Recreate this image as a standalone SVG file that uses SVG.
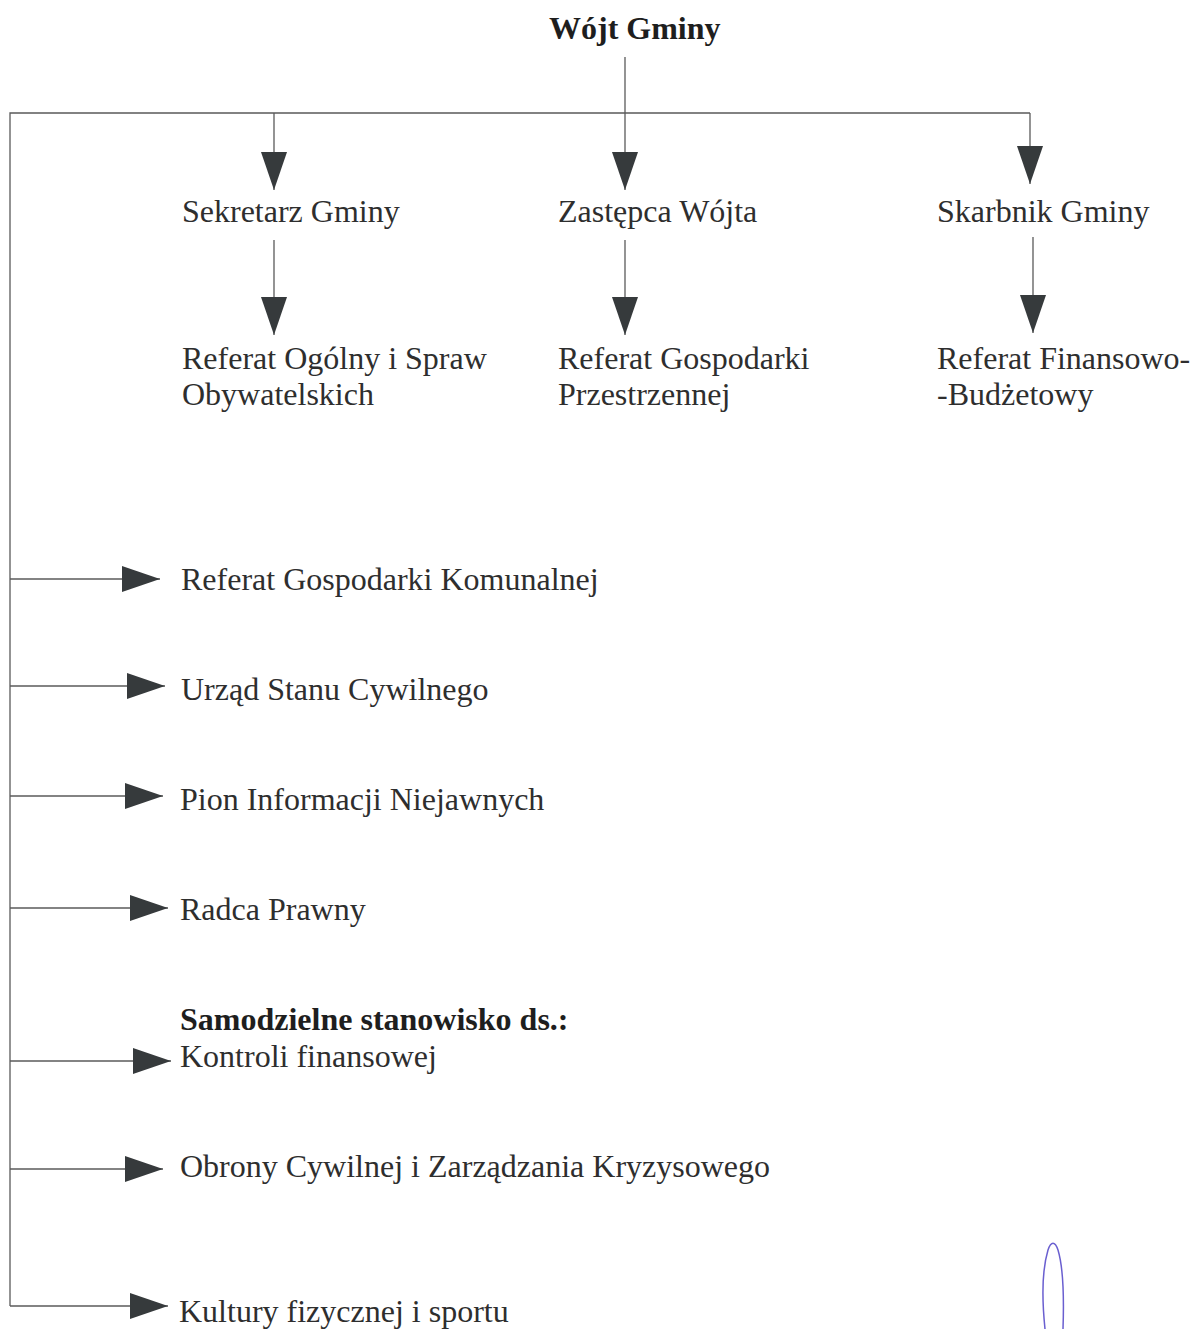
<svg xmlns="http://www.w3.org/2000/svg" width="1193" height="1329" viewBox="0 0 1193 1329">
<style>
text{font-family:"Liberation Serif","Times New Roman",serif;font-size:32px;fill:#2e2e2e}
.b{font-weight:bold;fill:#1e1e1e}
.c line,.c polyline{stroke:#5a5a5a;stroke-width:1.3;fill:none}
</style>
<defs>
<marker id="ah" viewBox="0 0 38 26" markerWidth="38" markerHeight="26" refX="38" refY="13" orient="auto" markerUnits="userSpaceOnUse">
<path d="M0,0 L38,13 L0,26 Z" fill="#363a3c"/>
</marker>
</defs>
<rect width="1193" height="1329" fill="#fff"/>
<g class="c" id="connectors">
<line x1="625" y1="57" x2="625" y2="190" marker-end="url(#ah)"/>
<polyline points="10,1306 10,113 1030,113"/>
<line x1="274" y1="113" x2="274" y2="190" marker-end="url(#ah)"/>
<line x1="1030" y1="113" x2="1030" y2="184" marker-end="url(#ah)"/>
<line x1="274" y1="240" x2="274" y2="335" marker-end="url(#ah)"/>
<line x1="625" y1="240" x2="625" y2="335" marker-end="url(#ah)"/>
<line x1="1033" y1="237" x2="1033" y2="333" marker-end="url(#ah)"/>
<line x1="10" y1="579" x2="160" y2="579" marker-end="url(#ah)"/>
<line x1="10" y1="686" x2="165" y2="686" marker-end="url(#ah)"/>
<line x1="10" y1="796" x2="163" y2="796" marker-end="url(#ah)"/>
<line x1="10" y1="908" x2="168" y2="908" marker-end="url(#ah)"/>
<line x1="10" y1="1061" x2="171" y2="1061" marker-end="url(#ah)"/>
<line x1="10" y1="1169" x2="163" y2="1169" marker-end="url(#ah)"/>
<line x1="10" y1="1306" x2="168" y2="1306" marker-end="url(#ah)"/>
</g>
<g id="wojt"><text class="b" x="549" y="39" font-size="33">Wójt Gminy</text></g>
<g id="sekretarz"><text x="182" y="222">Sekretarz Gminy</text></g>
<g id="zastepca"><text x="558" y="222">Zastępca Wójta</text></g>
<g id="skarbnik"><text x="937" y="222">Skarbnik Gminy</text></g>
<g id="ref-ogolny"><text x="182" y="369">Referat Ogólny i Spraw</text><text x="182" y="405">Obywatelskich</text></g>
<g id="ref-gp"><text x="558" y="369">Referat Gospodarki</text><text x="558" y="405">Przestrzennej</text></g>
<g id="ref-fb"><text x="937" y="369">Referat Finansowo-</text><text x="937" y="405">-Budżetowy</text></g>
<g id="ref-gk"><text x="181" y="590">Referat Gospodarki Komunalnej</text></g>
<g id="usc"><text x="181" y="700">Urząd Stanu Cywilnego</text></g>
<g id="pin"><text x="180" y="810">Pion Informacji Niejawnych</text></g>
<g id="radca"><text x="180" y="920">Radca Prawny</text></g>
<g id="samodzielne"><text class="b" x="180" y="1030">Samodzielne stanowisko ds.:</text><text x="180" y="1067">Kontroli finansowej</text></g>
<g id="obrona"><text x="180" y="1177">Obrony Cywilnej i Zarządzania Kryzysowego</text></g>
<g id="kultura"><text x="179" y="1322">Kultury fizycznej i sportu</text></g>
<path d="M1045,1329 C1042,1300 1042,1270 1048,1250 C1051,1241 1055,1241 1058,1250 C1064,1270 1064,1300 1063,1329" fill="none" stroke="#6a5fd0" stroke-width="1.5"/>
</svg>
